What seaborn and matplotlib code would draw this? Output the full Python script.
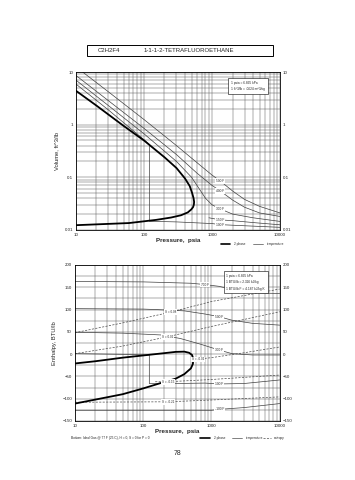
import numpy as np
import pandas as pd
import matplotlib.pyplot as plt
import matplotlib.ticker as mt
import seaborn as sns

sns.set_theme(style="white")
plt.rcParams['font.family'] = ['Liberation Sans', 'DejaVu Sans']

# ---- volume chart (P psia, v ft3/lb) ----
sat_vap_p = [10, 20, 50, 100, 200, 300, 400, 470, 510, 535, 545]
sat_vap_v = [4.4, 2.3, 0.95, 0.5, 0.24, 0.15, 0.095, 0.068, 0.05, 0.04, 0.034]
sat_liq_p = [545, 540, 525, 495, 440, 350, 250, 150, 60, 10]
sat_liq_v = [0.034, 0.03, 0.027, 0.0245, 0.0215, 0.019, 0.0172, 0.0155, 0.0135, 0.0123]

iso_v_labels = ["500 F", "400 F", "300 F", "150 F", "100 F"]
iso_v_p = [
    [10, 30, 100, 300, 600, 1000, 1320, 2000, 3000, 5000, 10000],
    [10, 30, 100, 300, 600, 1000, 1320, 2000, 3000, 5000, 10000],
    [10, 30, 100, 300, 500, 650, 800, 1000, 1320, 2000, 4000, 10000],
    [900, 1320, 2000, 4000, 10000],
    [10, 30, 90, 120, 120, 300, 1000, 1320, 3000, 10000],
]
iso_v_v = [
    [12.5, 4.2, 1.25, 0.4, 0.19, 0.11, 0.085, 0.055, 0.038, 0.028, 0.021],
    [8.6, 2.85, 0.85, 0.27, 0.12, 0.07, 0.055, 0.037, 0.027, 0.021, 0.018],
    [7.0, 2.3, 0.67, 0.2, 0.1, 0.06, 0.04, 0.03, 0.025, 0.02, 0.017, 0.0145],
    [0.017, 0.0155, 0.015, 0.0138, 0.0125],
    [5.9, 1.9, 0.58, 0.42, 0.0146, 0.0142, 0.0132, 0.0126, 0.012, 0.0112],
]
iso_v_lab_p = [1320, 1320, 1320, 1320, 1320]
iso_v_lab_v = [0.085, 0.055, 0.025, 0.0155, 0.0126]

# ---- enthalpy chart (P psia, H BTU/lb) ----
sat_h_vap_p = [10, 20, 50, 100, 200, 300, 400, 470, 520, 540]
sat_h_vap = [-21, -16, -8, -3, 2, 5, 5.5, 3, -2, -10]
sat_h_liq_p = [540, 535, 500, 400, 300, 180, 100, 50, 20, 10]
sat_h_liq = [-10, -22, -32, -45, -55, -65, -77, -90, -102, -111]

iso_h_labels = ["700 F", "500 F", "300 F", "100 F", "-100 F"]
iso_h_p = [
    [10, 100, 500, 800, 1300, 2500, 5000, 10000],
    [10, 100, 150, 400, 800, 1300, 2000, 4000, 10000],
    [10, 50, 180, 350, 700, 1300, 2000, 4000, 10000],
    [10, 50, 123, 123, 300, 800, 1300, 3000, 10000],
    [10, 100, 1000, 1300, 3000, 10000],
]
iso_h = [
    [163, 162, 159, 156, 152, 141, 137, 136],
    [102, 101, 100, 97, 90, 84, 76, 69, 65],
    [49, 47, 43, 35, 22, 9, 1, -2, -2],
    [1, -0.5, -2, -66, -66, -65, -67, -66, -58],
    [-126, -126, -126, -124, -120, -111],
]
iso_h_lab_p = [800, 1300, 1300, 1300, 1300]
iso_h_lab = [156, 84, 9, -66, -123]

ent_labels = ["S = 0.08", "S = 0.02", "S = -0.02", "S = -0.15", "S = -0.21"]
ent_p = [
    [10, 50, 250, 1000, 10000],
    [10, 50, 230, 1000, 10000],
    [560, 1000, 3000, 10000],
    [150, 230, 1000, 10000],
    [10, 230, 1000, 10000],
]
ent_h = [
    [48, 70, 94, 118, 146],
    [1, 18, 39, 62, 95],
    [-12, -8, 3, 16],
    [-62, -62, -57, -47],
    [-108, -107, -103, -96],
]
ent_lab_p = [250, 230, 640, 230, 230]
ent_lab_h = [94, 39, -12, -62, -107]

fig = plt.figure(figsize=(3.55, 4.8), dpi=100)
ax1 = fig.add_axes([0.214, 0.521, 0.575, 0.329])
ax2 = fig.add_axes([0.211, 0.123, 0.577, 0.325])

fs = 3.2
for ax in (ax1, ax2):
    ax.set_xscale('log')
    ax.set_xlim(10, 10000)
    ax.xaxis.set_major_formatter(mt.FuncFormatter(lambda v, p: f"{v:g}"))
    ax.xaxis.set_minor_formatter(mt.NullFormatter())
    ax.grid(which='both', color='0.35', lw=0.35)
    ax.tick_params(which='both', labelsize=fs, length=0, pad=2,
                   labelright=True, right=True)
    for s in ax.spines.values():
        s.set_linewidth(0.6)
        s.set_color('black')

# top chart
ax1.set_yscale('log')
ax1.set_ylim(0.01, 10)
ax1.yaxis.set_major_formatter(mt.FuncFormatter(lambda v, p: f"{v:g}"))
ax1.yaxis.set_minor_formatter(mt.NullFormatter())
for xs, ys, lab, lx, ly in zip(iso_v_p, iso_v_v, iso_v_labels, iso_v_lab_p, iso_v_lab_v):
    sns.lineplot(x=xs, y=ys, sort=False, estimator=None, color='0.25', lw=0.5, ax=ax1)
    ax1.text(lx, ly, lab, fontsize=2.3, ha='center', va='center',
             bbox=dict(fc='white', ec='none', pad=0.6))
sns.lineplot(x=sat_vap_p + sat_liq_p, y=sat_vap_v + sat_liq_v, sort=False,
             estimator=None, color='black', lw=1.3, ax=ax1)
ax1.set_ylabel("Volume, ft^3/lb", fontsize=4.2, labelpad=4)
ax1.set_xlabel("Pressure,  psia", fontsize=4.5, labelpad=1, fontweight='bold')
ax1.text(0.76, 0.91, "1 psia = 6.895 kPa\n1 ft^3/lb = .0624 m^3/kg", transform=ax1.transAxes,
         fontsize=2.3, va='center', ha='left', linespacing=1.8,
         bbox=dict(fc='white', ec='black', lw=0.4, pad=2))

# bottom chart
ax2.set_ylim(-150, 200)
ax2.set_yticks(np.arange(-150, 201, 50))
ax2.yaxis.set_minor_locator(mt.MultipleLocator(25))
for xs, ys, lab, lx, ly in zip(ent_p, ent_h, ent_labels, ent_lab_p, ent_lab_h):
    sns.lineplot(x=xs, y=ys, sort=False, estimator=None, color='0.3', lw=0.5,
                 ls=(0, (3, 2)), ax=ax2)
    ax2.text(lx, ly, lab, fontsize=2.2, ha='center', va='center',
             bbox=dict(fc='white', ec='none', pad=0.6))
for xs, ys, lab, lx, ly in zip(iso_h_p, iso_h, iso_h_labels, iso_h_lab_p, iso_h_lab):
    sns.lineplot(x=xs, y=ys, sort=False, estimator=None, color='0.25', lw=0.5, ax=ax2)
    ax2.text(lx, ly, lab, fontsize=2.3, ha='center', va='center',
             bbox=dict(fc='white', ec='none', pad=0.6))
sns.lineplot(x=sat_h_vap_p + sat_h_liq_p, y=sat_h_vap + sat_h_liq, sort=False,
             estimator=None, color='black', lw=1.3, ax=ax2)
ax2.set_ylabel("Enthalpy, BTU/lb", fontsize=4.2, labelpad=4)
ax2.set_xlabel("Pressure,  psia", fontsize=4.5, labelpad=1, fontweight='bold')
ax2.text(0.74, 0.89, "1 psia = 6.895 kPa\n1 BTU/lb = 2.326 kJ/kg\n1 BTU/lb F = 4.187 kJ/kg K",
         transform=ax2.transAxes, fontsize=2.3, va='center', ha='left', linespacing=1.8,
         bbox=dict(fc='white', ec='black', lw=0.4, pad=2))

# title box
fig.text(0.275, 0.895, "C2H2F4", fontsize=4.3, va='center')
fig.text(0.405, 0.895, "1-1-1-2-TETRAFLUOROETHANE", fontsize=4.3, va='center')
fig.patches.append(plt.Rectangle((0.245, 0.883), 0.525, 0.024, transform=fig.transFigure,
                                 fill=False, lw=0.7, ec='black'))

# legends
def key(y, x0, x1, lw, ls, col, txt):
    fig.add_artist(plt.Line2D([x0, x1], [y, y], lw=lw, ls=ls, color=col, transform=fig.transFigure))
    fig.text(x1 + 0.01, y, txt, fontsize=2.3, va='center')

key(0.492, 0.623, 0.648, 1.2, '-', 'black', "2 phase")
key(0.492, 0.713, 0.741, 0.5, '-', '0.3', "temperature")
fig.text(0.2, 0.087, "Bottom: Ideal Gas @ 77 F (25 C), H = 0, S = 0 for P = 0",
         fontsize=2.3, va='center')
key(0.087, 0.563, 0.592, 1.2, '-', 'black', "2 phase")
key(0.087, 0.653, 0.682, 0.5, '-', '0.3', "temperature")
key(0.087, 0.741, 0.762, 0.5, (0, (3, 2)), '0.3', "entropy")

fig.text(0.5, 0.056, "78", fontsize=5, ha='center', va='center')

fig.savefig("out.png", dpi=100)
